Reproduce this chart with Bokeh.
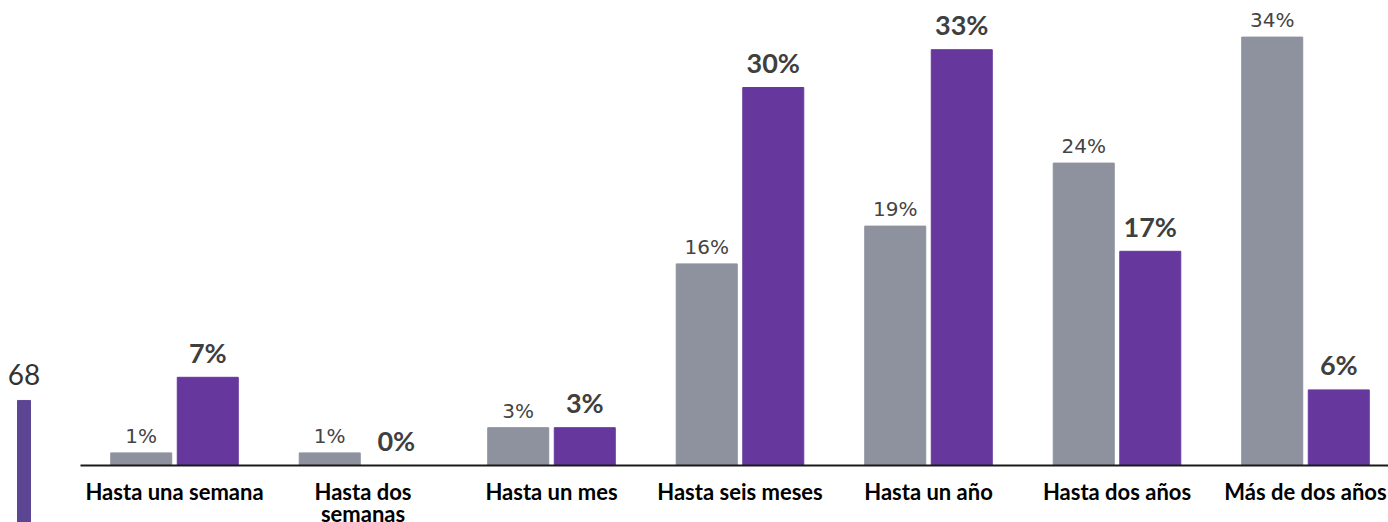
from bokeh.plotting import figure
from bokeh.models import ColumnDataSource, Range1d, FixedTicker
from bokeh.layouts import row
from bokeh.transform import dodge
from bokeh.core.properties import value
from bokeh.embed import file_html
from bokeh.resources import INLINE

categories = ["Hasta una semana", "Hasta dos semanas", "Hasta un mes", "Hasta seis meses",
              "Hasta un año", "Hasta dos años", "Más de dos años"]
tick_labels = ["Hasta una semana", "Hasta dos\nsemanas", "Hasta un mes", "Hasta seis meses",
               "Hasta un año", "Hasta dos años", "Más de dos años"]
gray_values = [1, 1, 3, 16, 19, 24, 34]
purple_values = [7, 0, 3, 30, 33, 17, 6]
side_value = [68]

GRAY = "#8e929e"
PURPLE = "#66389e"
SIDE_PURPLE = "#5c4694"

# ---- left fragment figure ----
left = figure(frame_width=80, frame_height=522, output_backend="svg", toolbar_location=None,
              x_axis_location=None, y_axis_location=None, title=None,
              min_border_left=0, min_border_right=0, min_border_top=0, min_border_bottom=0)
left.x_range = Range1d(-23.5 / 13, (80 - 23.5) / 13)
left.y_range = Range1d(40, 152.4)
left.outline_line_color = None
left.grid.visible = False
lsrc = ColumnDataSource(dict(x=[0], top=side_value, label=[str(v) for v in side_value]))
left.vbar(x="x", top="top", bottom=0, width=1, source=lsrc, color=SIDE_PURPLE)
left.text(x="x", y="top", text="label", source=lsrc, text_align="center",
          text_baseline="alphabetic", y_offset=-26, text_font=value("Lato"),
          text_font_size="28px", text_color="#333333")

# ---- main chart ----
idx = list(range(len(categories)))
src = ColumnDataSource(dict(
    x=idx, gray=gray_values, purple=purple_values,
    gl=[f"{v}%" for v in gray_values], pl=[f"{v}%" for v in purple_values]))

p = figure(frame_width=1308, frame_height=457, output_backend="svg", toolbar_location=None,
           y_axis_location=None, title=None,
           min_border_left=0, min_border_right=0, min_border_top=8, min_border_bottom=0)
p.x_range = Range1d(-0.4987, -0.4987 + 1308 / 188.5)
p.y_range = Range1d(0, 457 / 12.6)
p.outline_line_color = None
p.grid.visible = False

bw = 61 / 188.5
p.vbar(x=dodge("x", -0.1765), top="gray", bottom=0, width=bw, source=src, color=GRAY)
p.vbar(x=dodge("x", 0.1765), top="purple", bottom=0, width=bw, source=src, color=PURPLE)

p.text(x=dodge("x", -0.1765), y="gray", text="gl", source=src, text_align="center",
       text_baseline="alphabetic", y_offset=-17, text_font=value("DejaVu Sans"),
       text_font_size="20px", text_color="#444444")
p.text(x=dodge("x", 0.1765), y="purple", text="pl", source=src, text_align="center",
       text_baseline="alphabetic", y_offset=-25, text_font=value("Lato"),
       text_font_style="bold", text_font_size="27px", text_color="#3f3f3f")

ax = p.xaxis[0]
ax.ticker = FixedTicker(ticks=idx)
ax.major_label_overrides = {i: t for i, t in zip(idx, tick_labels)}
ax.major_tick_line_color = None
ax.minor_tick_line_color = None
ax.axis_line_color = "#1a1a1a"
ax.axis_line_width = 2
ax.major_label_standoff = 6
ax.major_label_text_font = "Lato"
ax.major_label_text_font_style = "bold"
ax.major_label_text_font_size = "22px"
ax.major_label_text_line_height = 0.83
ax.major_label_text_color = "#000000"

layout = row(left, p, spacing=0)
open("out.html", "w").write(file_html(layout, INLINE))
